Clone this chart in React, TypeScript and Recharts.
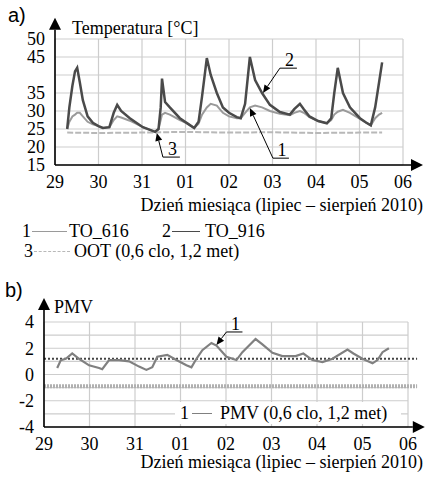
import { LineChart, Line, XAxis, YAxis, CartesianGrid, ReferenceLine } from 'recharts'

const serif = "Liberation Serif, Tinos, DejaVu Serif, Noto Serif, Times New Roman, serif"
const sans = "Liberation Sans, Arial, sans-serif"

// wspólna oś czasu: 0 = 29 lipca, 8 = 06 sierpnia
const dayTicks = [0, 1, 2, 3, 4, 5, 6, 7, 8]
const dayLabels = ['29', '30', '31', '01', '02', '03', '04', '05', '06']

// a) temperatura operacyjna
const tempTime = [
  0.28, 0.33, 0.4, 0.46, 0.51, 0.57, 0.64, 0.75, 0.87, 1.0, 1.1, 1.25, 1.35, 1.43, 1.52, 1.72, 2.02, 2.2, 2.3, 2.38,
  2.43, 2.46, 2.53, 2.64, 2.87, 3.05, 3.2, 3.3, 3.38, 3.49, 3.58, 3.72, 3.86, 4.0, 4.18, 4.27, 4.37, 4.48, 4.6, 4.76,
  4.94, 5.17, 5.4, 5.5, 5.63, 5.72, 5.85, 6.05, 6.25, 6.35, 6.42, 6.5, 6.62, 6.78, 7.01, 7.15, 7.26, 7.36, 7.45, 7.52,
]
const to916 = [
  25, 31, 37, 41, 42, 38, 33, 28.5, 26.7, 25.8, 25.3, 25.5, 29.5, 31.7, 30, 28, 25.5, 24.7, 24.2, 25,
  31, 39, 32.5, 31, 28, 26.5, 25.3, 27, 34, 44.7, 40, 35, 31, 29.5, 28.3, 28, 32, 45, 38.6, 35,
  31.7, 29.7, 29, 30.5, 32, 30.5, 28.5, 27.2, 26.6, 28, 35, 42, 35, 31, 28, 26.8, 26, 31, 38, 43.5,
]
const to616 = [
  25, 27, 28.5, 29, 29.5, 29.5, 28.5, 27, 26.3, 25.8, 25.3, 25.5, 27.5, 28.5, 28.2, 27.3, 25.5, 24.7, 24.2, 25,
  27.5, 29, 29.5, 29, 27.5, 26.5, 25.3, 26.5, 29, 31, 32, 31.5, 29.5, 28.5, 28, 28, 29.5, 31, 31.5, 31,
  30, 29.2, 28.8, 29.5, 30, 29.5, 28.3, 27.2, 26.6, 27.5, 29, 29.8, 30.3, 29.5, 27.8, 26.8, 26, 28, 29, 29.5,
]
const ootTime = [0.28, 1, 2, 3, 4, 5, 6, 7, 7.52]
const oot = [24, 23.9, 24, 24.2, 24, 24.1, 23.9, 24, 24]
const tempTicks = [15, 20, 25, 30, 35, 40, 45, 50]

// b) PMV
const pmvTime = [
  0.29, 0.37, 0.48, 0.62, 0.77, 0.99, 1.21, 1.28, 1.43, 1.65, 1.87, 2.09, 2.25, 2.38, 2.49, 2.71, 2.91, 3.13, 3.24, 3.35,
  3.48, 3.68, 3.79, 4.01, 4.23, 4.36, 4.65, 4.8, 5.02, 5.24, 5.53, 5.7, 5.9, 6.12, 6.34, 6.67, 6.8, 7.0, 7.22, 7.33,
  7.44, 7.58,
]
const pmv = [
  0.5, 1.1, 1.2, 1.6, 1.2, 0.7, 0.5, 0.4, 1.1, 1.1, 1.0, 0.6, 0.35, 0.55, 1.35, 1.5, 1.1, 0.7, 0.55, 1.2,
  1.85, 2.4, 2.2, 1.35, 1.1, 1.7, 2.7, 2.3, 1.65, 1.4, 1.4, 1.6, 1.1, 0.95, 1.2, 1.9, 1.6, 1.2, 0.85, 1.1,
  1.7, 2.0,
]
const pmvTicks = [-4, -3, -2, -1, 0, 1, 2, 3, 4]

const tempRows = tempTime.map((t, i) => ({ t, to916: to916[i], to616: to616[i] }))
const ootRows = ootTime.map((t, i) => ({ t, oot: oot[i] }))
const pmvRows = pmvTime.map((t, i) => ({ t, pmv: pmv[i] }))

const arrowHead = (x1: number, y1: number, x2: number, y2: number, size: number, w: number) => {
  const a = Math.atan2(y2 - y1, x2 - x1)
  const bx = x2 - Math.cos(a) * size
  const by = y2 - Math.sin(a) * size
  const px = -Math.sin(a) * w
  const py = Math.cos(a) * w
  return { bx, by, pts: `${x2},${y2} ${bx + px},${by + py} ${bx - px},${by - py}` }
}

const axisArrow = (props: any) => {
  const { x1, y1, x2, y2 } = props
  const h = arrowHead(x1, y1, x2, y2, 12, 6)
  return (
    <g>
      <line x1={x1} y1={y1} x2={h.bx} y2={h.by} stroke="#000" strokeWidth={1.6} />
      <polygon points={h.pts} fill="#000" />
    </g>
  )
}

const leader = (label: string, ulen: number) => (props: any) => {
  const { x1, y1, x2, y2 } = props
  const h = arrowHead(x1, y1, x2, y2, 8, 3.5)
  return (
    <g>
      <line x1={x1} y1={y1} x2={x1 + ulen} y2={y1} stroke="#000" strokeWidth={1} />
      <line x1={x1} y1={y1} x2={h.bx} y2={h.by} stroke="#000" strokeWidth={1} />
      <polygon points={h.pts} fill="#000" />
      <text x={x1 + ulen / 2 + 1} y={y1 - 2} textAnchor="middle" fontSize={18} style={{ fontFamily: serif }}>
        {label}
      </text>
    </g>
  )
}

const txt = (left: number, cy: number, s: string, extra: any = {}) => (
  <span
    style={{
      position: 'absolute',
      left,
      top: cy - 10,
      lineHeight: '20px',
      fontSize: 18,
      fontFamily: serif,
      whiteSpace: 'nowrap',
      ...extra,
    }}
  >
    {s}
  </span>
)

const legendLine = (left: number, cy: number, width: number, color: string, dashed = false) => (
  <div
    style={{
      position: 'absolute',
      left,
      top: cy,
      width,
      borderTop: `1.5px ${dashed ? 'dashed' : 'solid'} ${color}`,
    }}
  />
)

const tickStyle = { fontSize: 18, fill: '#000', style: { fontFamily: serif } }

export default function App() {
  return (
    <div style={{ position: 'absolute', left: 0, top: 0, width: 426, height: 478, background: '#fff', overflow: 'hidden', fontFamily: serif }}>
      <div style={{ position: 'absolute', left: 0, top: 0 }}>
        <LineChart width={426} height={200} data={tempRows} margin={{ top: 39, right: 23, bottom: 0, left: 10 }}>
          <CartesianGrid stroke="#cdcdcd" strokeWidth={1.2} />
          <XAxis
            dataKey="t"
            type="number"
            domain={[0, 8]}
            ticks={dayTicks}
            tickFormatter={(v) => dayLabels[v]}
            axisLine={false}
            tickLine={false}
            tickMargin={4}
            height={35}
            tick={tickStyle}
            interval={0}
          />
          <YAxis
            type="number"
            domain={[15, 50]}
            ticks={tempTicks}
            tickFormatter={(v) => (v === 40 ? '' : String(v))}
            axisLine={false}
            tickLine={false}
            tickMargin={4}
            width={45}
            tick={tickStyle}
            interval={0}
          />
          <Line data={ootRows} dataKey="oot" stroke="#b8b8b8" strokeWidth={2} strokeDasharray="6 2" dot={false} isAnimationActive={false} />
          <Line dataKey="to616" stroke="#9a9a9a" strokeWidth={2} dot={false} isAnimationActive={false} />
          <Line dataKey="to916" stroke="#4a4a4a" strokeWidth={2.5} dot={false} isAnimationActive={false} />
          <ReferenceLine segment={[{ x: 0, y: 15 }, { x: 0, y: 55.9 }]} ifOverflow="visible" shape={axisArrow} />
          <ReferenceLine segment={[{ x: 0, y: 15 }, { x: 8.46, y: 15 }]} ifOverflow="visible" shape={axisArrow} />
          <ReferenceLine segment={[{ x: 5.17, y: 41.9 }, { x: 4.78, y: 35 }]} ifOverflow="visible" shape={leader('2', 17)} />
          <ReferenceLine segment={[{ x: 5.01, y: 16.9 }, { x: 4.48, y: 30.8 }]} ifOverflow="visible" shape={leader('1', 16)} />
          <ReferenceLine segment={[{ x: 2.48, y: 17.2 }, { x: 2.34, y: 23.9 }]} ifOverflow="visible" shape={leader('3', 17)} />
        </LineChart>
      </div>

      {txt(8, 15, 'a)', { fontFamily: sans, fontSize: 20 })}
      {txt(72, 28, 'Temperatura [°C]')}
      {txt(0, 205, 'Dzień miesiąca (lipiec – sierpień 2010)', { left: undefined, right: 3 })}
      {txt(22, 231, '1')}
      {legendLine(32, 231, 35, '#9a9a9a')}
      {txt(69, 231, 'TO_616')}
      {txt(162, 231, '2')}
      {legendLine(172, 231, 28, '#4a4a4a')}
      {txt(205, 231, 'TO_916')}
      {txt(24, 251, '3')}
      {legendLine(34, 251, 36, '#b8b8b8', true)}
      {txt(74, 251, 'OOT (0,6 clo, 1,2 met)')}

      <div style={{ position: 'absolute', left: 0, top: 280 }}>
        <LineChart width={426} height={180} data={pmvRows} margin={{ top: 42, right: 18, bottom: 0, left: 9 }}>
          <CartesianGrid stroke="#cdcdcd" strokeWidth={1.2} />
          <XAxis
            dataKey="t"
            type="number"
            domain={[0, 8]}
            ticks={dayTicks}
            tickFormatter={(v) => dayLabels[v]}
            axisLine={false}
            tickLine={false}
            tickMargin={4}
            height={33}
            tick={tickStyle}
            interval={0}
          />
          <YAxis
            type="number"
            domain={[-4, 4]}
            ticks={pmvTicks}
            tickFormatter={(v) => (v % 2 === 0 ? String(v) : '')}
            axisLine={false}
            tickLine={false}
            tickMargin={4}
            width={35}
            tick={tickStyle}
            interval={0}
          />
          <ReferenceLine segment={[{ x: 0, y: -0.9 }, { x: 8.2, y: -0.9 }]} ifOverflow="visible" stroke="#b0b0b0" strokeWidth={4} strokeDasharray="2 1" />
          <ReferenceLine segment={[{ x: 0, y: 1.2 }, { x: 8.2, y: 1.2 }]} ifOverflow="visible" stroke="#444" strokeWidth={2} strokeDasharray="2 2" />
          <Line dataKey="pmv" stroke="#808080" strokeWidth={2.2} dot={false} isAnimationActive={false} />
          <ReferenceLine segment={[{ x: 0, y: -4 }, { x: 0, y: 5.83 }]} ifOverflow="visible" shape={axisArrow} />
          <ReferenceLine segment={[{ x: 0, y: -4 }, { x: 8.37, y: -4 }]} ifOverflow="visible" shape={axisArrow} />
          <ReferenceLine segment={[{ x: 4.01, y: 3.24 }, { x: 3.79, y: 2.25 }]} ifOverflow="visible" shape={leader('1', 16)} />
        </LineChart>
      </div>

      {txt(5, 290, 'b)', { fontFamily: sans, fontSize: 20 })}
      {txt(54, 307, 'PMV')}
      <div style={{ position: 'absolute', left: 175, top: 402, width: 226, height: 22, background: '#fff' }} />
      {txt(180, 413, '1')}
      {legendLine(192, 413, 20, '#808080')}
      {txt(220, 413, 'PMV (0,6 clo, 1,2 met)')}
      {txt(0, 462, 'Dzień miesiąca (lipiec – sierpień 2010)', { left: undefined, right: 3 })}
    </div>
  )
}
